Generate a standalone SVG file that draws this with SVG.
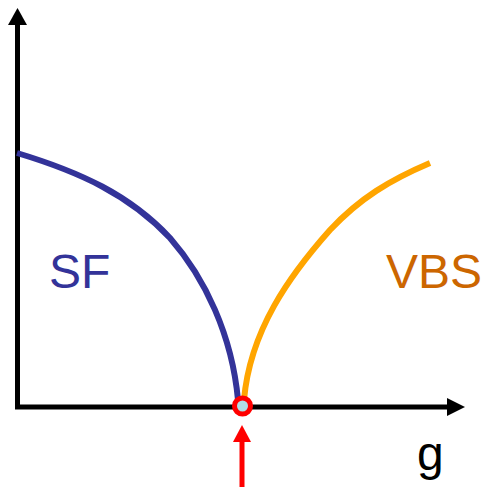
<svg xmlns="http://www.w3.org/2000/svg" width="483" height="487" viewBox="0 0 483 487">
<style>
.axis{stroke:#000;stroke-width:5;fill:none}
.lbl{font-family:"Liberation Sans",Arial,sans-serif;font-size:48px}
</style>
<rect width="483" height="487" fill="#fff"/>
<g id="connectors">
<line class="axis" x1="17.5" y1="408" x2="17.5" y2="22"/>
<polygon points="17.5,8 8,25 27,25" fill="#000"/>
<line class="axis" x1="15" y1="407" x2="450" y2="407"/>
<polygon points="465,407 447,398 447,416" fill="#000"/>
<path id="sf-curve" d="M17,153 C80,172 130,195 170,238 C205,278 232,335 238,400" stroke="#333399" stroke-width="6" fill="none"/>
<path id="vbs-curve" d="M244,400 C250,330 290,275 330,230 C360,198 390,180 430,163" stroke="#ffa500" stroke-width="6" fill="none"/>
<line x1="242" y1="438" x2="242" y2="487" stroke="#ff0000" stroke-width="5"/>
<polygon points="242,425 233,442 251,442" fill="#ff0000"/>
</g>
<g id="critical-point">
<circle cx="242.5" cy="406" r="8" fill="#b0e0e6" stroke="#ff0000" stroke-width="5"/>
</g>
<g id="label-sf"><text class="lbl" x="49" y="288" fill="#333399">SF</text></g>
<g id="label-vbs"><text class="lbl" x="386" y="288" fill="#cc6600">VBS</text></g>
<g id="label-g"><text class="lbl" x="417" y="470" fill="#000">g</text></g>
</svg>
